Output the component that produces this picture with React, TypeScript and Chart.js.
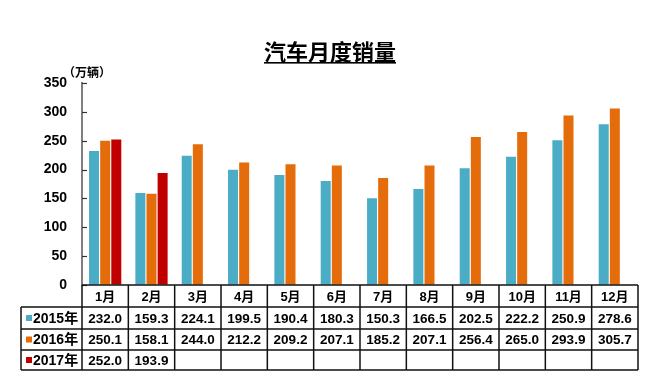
import React, { useEffect, useRef } from "react";
import { Chart, registerables } from "chart.js";

Chart.register(...registerables);

const months = ["1月", "2月", "3月", "4月", "5月", "6月", "7月", "8月", "9月", "10月", "11月", "12月"];
const sales2015 = [232.0, 159.3, 224.1, 199.5, 190.4, 180.3, 150.3, 166.5, 202.5, 222.2, 250.9, 278.6];
const sales2016 = [250.1, 158.1, 244.0, 212.2, 209.2, 207.1, 185.2, 207.1, 256.4, 265.0, 293.9, 305.7];
const sales2017 = [252.0, 193.9, null, null, null, null, null, null, null, null, null, null];
const seriesLabels = ["2015年", "2016年", "2017年"];
const seriesColors = ["#4BACC6", "#E46C0A", "#C00000"];
const titleText = "汽车月度销量";
const unitText = "（万辆）";
const yMax = 350;
const yStep = 50;

const FONT = '"Liberation Sans", Arial, "Noto Sans CJK SC", sans-serif';
const CJK = '"Noto Sans CJK SC", "Liberation Sans", sans-serif';

const rowBounds = [285, 307, 329, 350, 370];
const tableLeft = 21;

const decorPlugin = {
  id: "decor",
  afterDraw(chart: any) {
    const ctx = chart.ctx as CanvasRenderingContext2D;
    const area = chart.chartArea;
    const xs = chart.scales.x;
    const ys = chart.scales.y;
    ctx.save();

    // title
    ctx.font = "bold 22px " + CJK;
    ctx.fillStyle = "#000";
    ctx.textAlign = "center";
    ctx.textBaseline = "middle";
    const tx = 330;
    const ty = 52;
    ctx.fillText(titleText, tx, ty);
    const tw = ctx.measureText(titleText).width;
    ctx.fillRect(tx - tw / 2, 62, tw, 1.6);

    // unit
    ctx.font = "bold 12px " + CJK;
    ctx.textAlign = "left";
    ctx.fillText(unitText, 63, 72);

    // inward tick marks
    ctx.strokeStyle = "#333";
    ctx.lineWidth = 1.2;
    ys.ticks.forEach((t: any) => {
      const y = Math.round(ys.getPixelForValue(t.value)) + 0.5;
      ctx.beginPath();
      ctx.moveTo(area.left, y);
      ctx.lineTo(area.left + 5, y);
      ctx.stroke();
    });

    // table
    const n = months.length;
    const cw = (area.right - area.left) / n;
    ctx.strokeStyle = "#111";
    ctx.lineWidth = 1.5;
    // horizontal lines
    rowBounds.forEach((y, i) => {
      ctx.beginPath();
      ctx.moveTo(i === 0 ? area.left : tableLeft, y);
      ctx.lineTo(area.right, y);
      ctx.stroke();
    });
    // vertical lines
    for (let i = 0; i <= n; i++) {
      const x = area.left + i * cw;
      ctx.beginPath();
      ctx.moveTo(x, rowBounds[0]);
      ctx.lineTo(x, rowBounds[rowBounds.length - 1]);
      ctx.stroke();
    }
    ctx.beginPath();
    ctx.moveTo(tableLeft, rowBounds[1]);
    ctx.lineTo(tableLeft, rowBounds[rowBounds.length - 1]);
    ctx.stroke();

    // month labels
    ctx.fillStyle = "#000";
    ctx.textAlign = "center";
    ctx.textBaseline = "middle";
    ctx.font = "bold 13px " + FONT;
    months.forEach((m, i) => {
      const x = xs.getPixelForValue(i);
      ctx.fillText(m, x, (rowBounds[0] + rowBounds[1]) / 2 + 1);
    });

    // series rows
    const series = [sales2015, sales2016, sales2017];
    series.forEach((vals, r) => {
      const yc = (rowBounds[r + 1] + rowBounds[r + 2]) / 2 + 1;
      // legend key
      ctx.fillStyle = seriesColors[r];
      ctx.fillRect(26, yc - 4, 6, 6);
      ctx.fillStyle = "#000";
      ctx.textAlign = "left";
      ctx.font = "bold 14px " + FONT;
      ctx.fillText(seriesLabels[r], 33, yc);
      ctx.textAlign = "center";
      ctx.font = "bold 13.5px " + FONT;
      vals.forEach((v, i) => {
        if (v === null || v === undefined) return;
        ctx.fillText((v as number).toFixed(1), xs.getPixelForValue(i), yc);
      });
    });

    ctx.restore();
  },
};

export default function App() {
  const ref = useRef<HTMLCanvasElement | null>(null);
  useEffect(() => {
    if (!ref.current) return;
    const chart = new Chart(ref.current, {
      type: "bar",
      data: {
        labels: months,
        datasets: [
          { label: seriesLabels[0], data: sales2015, backgroundColor: seriesColors[0] },
          { label: seriesLabels[1], data: sales2016, backgroundColor: seriesColors[1] },
          { label: seriesLabels[2], data: sales2017 as any, backgroundColor: seriesColors[2] },
        ],
      },
      options: {
        responsive: false,
        animation: false,
        layout: { padding: { top: 83, bottom: 97, left: 0, right: 22 } },
        datasets: { bar: { barPercentage: 0.9, categoryPercentage: 0.72 } },
        plugins: {
          legend: { display: false },
          title: { display: false },
          tooltip: { enabled: false },
        },
        scales: {
          x: { display: false },
          y: {
            min: 0,
            max: yMax,
            ticks: {
              stepSize: yStep,
              padding: 15,
              color: "#000",
              font: { size: 14, weight: "bold", family: FONT },
            },
            grid: { display: true, drawOnChartArea: false, drawTicks: false },
            border: { display: true, color: "#7f7f7f", width: 2 },
            afterFit: (s: any) => {
              s.width = 82;
            },
          },
        },
      },
      plugins: [decorPlugin],
    } as any);
    return () => chart.destroy();
  }, []);
  return (
    <div style={{ position: "absolute", left: 0, top: 0, width: 660, height: 382, background: "#fff" }}>
      <canvas ref={ref} width={660} height={382} style={{ display: "block" }} />
    </div>
  );
}
